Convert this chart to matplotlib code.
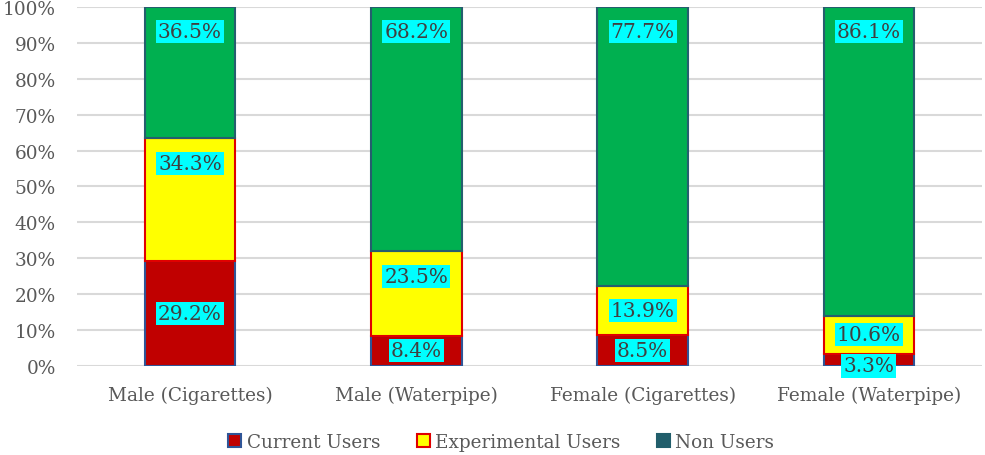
import numpy as np
import matplotlib.pyplot as plt
from matplotlib.patches import Patch

categories = ["Male (Cigarettes)", "Male (Waterpipe)", "Female (Cigarettes)", "Female (Waterpipe)"]
current_users = [29.2, 8.4, 8.5, 3.3]
experimental_users = [34.3, 23.5, 13.9, 10.6]
non_users = [36.5, 68.2, 77.7, 86.1]

plt.rcParams['font.family'] = ['DejaVu Serif']

fig = plt.figure(figsize=(9.85, 4.56), dpi=100)
ax = fig.add_axes([0.078, 0.1952, 0.919, 0.7873])

x = np.arange(len(categories))
w = 0.40
cur = np.array(current_users)
exp = np.array(experimental_users)
non = np.array(non_users)

ax.bar(x, cur, w, color='#C00000', edgecolor='#2F5597', linewidth=1.5, zorder=3)
ax.bar(x, exp, w, bottom=cur, color='#FFFF00', edgecolor='#E00000', linewidth=1.5, zorder=3)
ax.bar(x, non, w, bottom=cur + exp, color='#00B050', edgecolor='#255E6E', linewidth=1.5, zorder=3)

box = dict(facecolor='#00FFFF', edgecolor='none', pad=1.5)
tkw = dict(ha='center', va='center', fontsize=14.5, color='#404040', bbox=box, zorder=5)

for i in range(len(x)):
    # current users: centered, pushed down when the segment is too thin
    if cur[i] < 5:
        ax.annotate(f"{cur[i]:.1f}%", (x[i], 0), xytext=(0, 0),
                    textcoords='offset points', **tkw)
        exp_off = -13
    else:
        ax.text(x[i], cur[i] / 2, f"{cur[i]:.1f}%", **tkw)
        exp_off = -18
    # experimental & non users: near top of segment (inside end)
    ax.annotate(f"{exp[i]:.1f}%", (x[i], cur[i] + exp[i]), xytext=(0, exp_off),
                textcoords='offset points', **tkw)
    ax.annotate(f"{non[i]:.1f}%", (x[i], 100), xytext=(0, -18),
                textcoords='offset points', **tkw)

ax.set_xlim(-0.5, len(x) - 0.5)
ax.set_ylim(0, 100)
ax.set_yticks(np.arange(0, 101, 10))
ax.set_yticklabels([f"{v}%" for v in range(0, 101, 10)])
ax.set_xticks(x)
ax.set_xticklabels(categories)
ax.tick_params(axis='both', length=0, labelsize=13.3, labelcolor='#595959')
ax.tick_params(axis='x', pad=14)
ax.tick_params(axis='y', pad=15)
ax.grid(axis='y', color='#D9D9D9', linewidth=1.5, zorder=0)
for s in ax.spines.values():
    s.set_visible(False)

handles = [
    Patch(facecolor='#C00000', edgecolor='#2F5597', linewidth=1.5, label='Current Users'),
    Patch(facecolor='#FFFF00', edgecolor='#E00000', linewidth=1.5, label='Experimental Users'),
    Patch(facecolor='#215E6B', edgecolor='#215E6B', linewidth=1.5, label='Non Users'),
]
leg = fig.legend(handles=handles, loc='center', bbox_to_anchor=(0.509, 0.028), ncol=3,
                 frameon=False, fontsize=13.2, handlelength=0.7, handleheight=0.7,
                 handletextpad=0.3, columnspacing=2.0)
for t in leg.get_texts():
    t.set_color('#595959')

fig.savefig('out.png', dpi=100)
